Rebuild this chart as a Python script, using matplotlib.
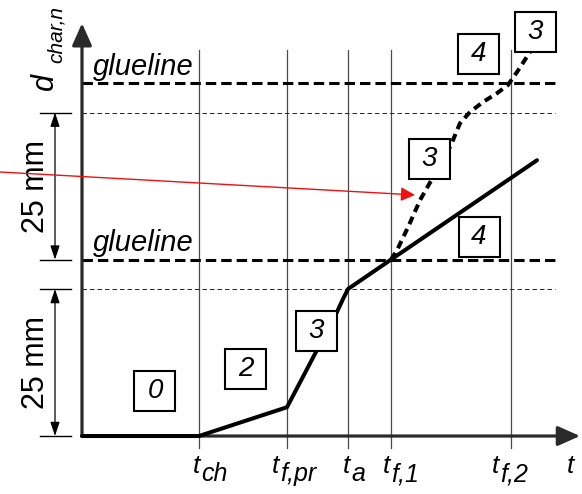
import matplotlib
matplotlib.use("Agg")
import matplotlib.pyplot as plt
from matplotlib.patches import Rectangle

plt.rcParams['font.family'] = ['Liberation Sans', 'DejaVu Sans']
plt.rcParams['lines.scale_dashes'] = False

# ---------------- data ----------------
# characteristic time points (arbitrary time units)
t_marks = [11.7, 20.5, 26.6, 30.9, 42.9]
t_main = ['t', 't', 't', 't', 't']
t_subs = ['ch', 'f,pr', 'a', 'f,1', 'f,2']
t_label_left = [11.1, 19.0, 26.1, 30.1, 41.0]

# glueline depths and layer limits (mm)
glueline_depths = [30.0, 60.0]
layer_limits = [25.0, 55.0]
glueline_text = 'glueline'

# dimension ranges (mm)
dim_ranges = [(0.0, 25.0), (30.0, 55.0)]
dim_text = '25 mm'

# charring depth: solid curve
char_t = [0.0, 11.7, 20.5, 25.5, 26.1, 26.6, 30.9, 45.5]
char_d = [0.0, 0.0, 4.9, 21.1, 23.3, 25.0, 30.0, 46.9]

# charring depth: dashed curve
dash_t = [30.9, 31.5, 32.6, 33.8, 35.0, 36.9, 37.8, 38.8, 40.1, 41.5, 42.6, 43.5, 44.8]
dash_d = [30.0, 31.6, 35.5, 40.1, 43.7, 49.5, 53.2, 55.1, 56.8, 58.3, 59.7, 61.9, 65.3]

# phase boxes (t, d, label)
box_t = [7.3, 16.35, 23.45, 34.75, 39.7, 39.65, 45.35]
box_d = [7.6, 11.4, 17.8, 47.1, 33.8, 65.0, 68.7]
box_labels = ['0', '2', '3', '3', '4', '4', '3']

# red pointer arrow (start, tip)
red_start = (-8.2, 44.9)
red_tip = (33.3, 41.0)

# axis labels
y_main, y_sub = 'd', 'char,n'
x_axis_label = 't'

# axis extents
t_axis_end = 49.8
d_axis_end = 70.2
line_t_end = 47.3

# ---------------- figure ----------------
fig = plt.figure(figsize=(5.82, 4.94), dpi=100)
ax = fig.add_axes([0, 0, 1, 1])
ax.set_xlim(-8.2, 50.0)
ax.set_ylim(-9.86, 74.15)
ax.axis('off')

# vertical time lines
for t in t_marks:
    ax.plot([t, t], [-2.0, 65.6], color='#4a4a4a', lw=0.9, zorder=1)

# gluelines and layer limits
for g in glueline_depths:
    ax.plot([0, line_t_end], [g, g], color='black', lw=2.2,
            linestyle=(0, (7.5, 3.6)), zorder=2)
    ax.text(1.1, g + 1.45, glueline_text, fontsize=21, style='italic',
            ha='left', va='baseline', zorder=5)
for l in layer_limits:
    ax.plot([0, line_t_end], [l, l], color='#222222', lw=0.7,
            linestyle=(0, (3.2, 2.2)), zorder=2)

# axes with arrows
for tip in [(t_axis_end, 0), (0, d_axis_end)]:
    ax.annotate('', xy=tip, xytext=(0, 0),
                arrowprops=dict(arrowstyle='-|>,head_length=0.45,head_width=0.2',
                                lw=2.3, color='#2a2a2a', mutation_scale=30,
                                shrinkA=0, shrinkB=0), zorder=3)

# dimension lines
for lo, hi in dim_ranges:
    for v in (lo, hi):
        ax.plot([-4.2, -1.1], [v, v], color='black', lw=1.0, zorder=3)
    ax.annotate('', xy=(-2.7, hi), xytext=(-2.7, lo),
                arrowprops=dict(arrowstyle='<|-|>,head_length=0.6,head_width=0.2',
                                lw=0.9, color='black', mutation_scale=14,
                                shrinkA=0, shrinkB=0))
    ax.text(-4.6, (lo + hi) / 2, dim_text, rotation=90, fontsize=22,
            ha='center', va='center')

# curves
ax.plot(char_t, char_d, color='black', lw=2.9, solid_capstyle='round',
        solid_joinstyle='round', zorder=4)
ax.plot(dash_t, dash_d, color='black', lw=2.9, linestyle=(0, (5.8, 3.8)),
        dash_capstyle='butt', zorder=4)

# phase boxes
bw, bh = 4.1, 6.8
for bt, bd, lab in zip(box_t, box_d, box_labels):
    ax.add_patch(Rectangle((bt - bw / 2, bd - bh / 2), bw, bh, facecolor='white',
                           edgecolor='black', lw=1.5, zorder=6))
    ax.text(bt, bd, lab, fontsize=20, style='italic', ha='center', va='center',
            zorder=7)

# red arrow
ax.annotate('', xy=red_tip, xytext=red_start,
            arrowprops=dict(arrowstyle='-|>,head_length=0.85,head_width=0.42',
                            lw=1.0, color='#ee1111', mutation_scale=10,
                            shrinkA=0, shrinkB=0), zorder=8)

# time tick labels
for x0, m, s in zip(t_label_left, t_main, t_subs):
    ax.text(x0, -6.3, m, fontsize=19, style='italic', ha='left', va='baseline')
    ax.annotate(s, xy=(x0, -6.3), xytext=(6.0, -6.0), textcoords='offset points',
                fontsize=18, style='italic', ha='left', va='baseline')

# axis labels
ax.text(48.5, -6.3, x_axis_label, fontsize=19, style='italic', ha='left',
        va='baseline')
ax.text(-2.9, 58.8, y_main, fontsize=22, style='italic', rotation=90,
        rotation_mode='anchor', ha='left', va='baseline')
ax.text(-2.0, 63.4, y_sub, fontsize=15, style='italic', rotation=90,
        rotation_mode='anchor', ha='left', va='baseline')

fig.savefig('out.png', dpi=100)
